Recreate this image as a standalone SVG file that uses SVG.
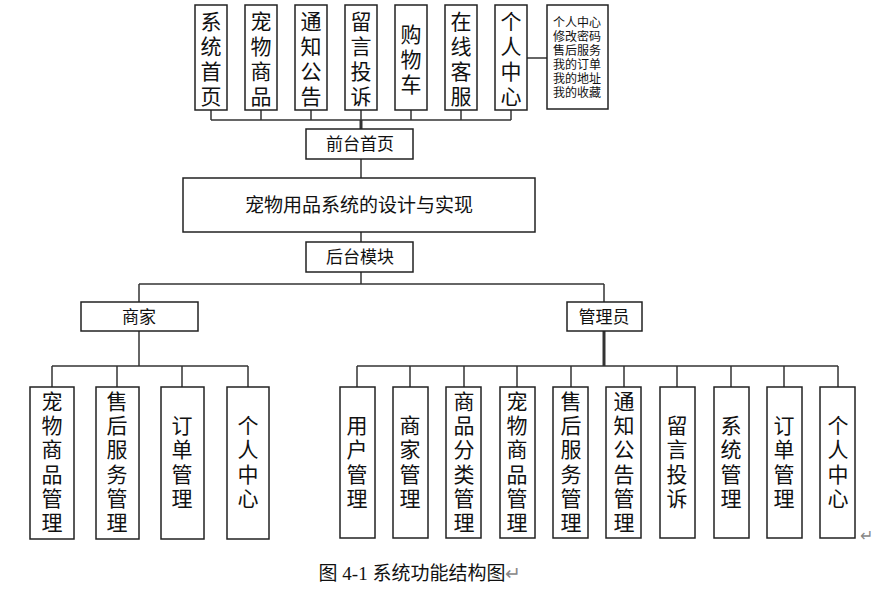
<svg xmlns="http://www.w3.org/2000/svg" width="883" height="609" viewBox="0 0 883 609">
<style>
rect{fill:#fff;stroke:#222;stroke-width:1.5}
line{stroke:#333;stroke-width:1.5}
text{font-family:"Liberation Serif","Noto Sans CJK SC",serif;fill:#111}
.v{font-size:21px;text-anchor:middle;dominant-baseline:central}
.h{font-size:17px;text-anchor:middle;dominant-baseline:central}
.s{font-size:12px;text-anchor:middle}
</style>
<rect width="883" height="609" style="fill:#fff;stroke:none"/>
<g id="connectors">
<line x1="211" y1="110" x2="211" y2="120"/><line x1="261" y1="110" x2="261" y2="120"/><line x1="311" y1="110" x2="311" y2="120"/><line x1="361" y1="110" x2="361" y2="120"/><line x1="411" y1="110" x2="411" y2="120"/><line x1="461" y1="110" x2="461" y2="120"/><line x1="511" y1="110" x2="511" y2="120"/>
<line x1="211" y1="120" x2="511" y2="120"/>
<line x1="361" y1="120" x2="361" y2="129" style="stroke-width:3"/>
<line x1="526" y1="58" x2="547" y2="58"/>
<line x1="361" y1="159" x2="361" y2="178"/>
<line x1="361" y1="232" x2="361" y2="242"/>
<line x1="361" y1="272" x2="361" y2="284"/>
<line x1="139" y1="284" x2="604" y2="284"/>
<line x1="139" y1="284" x2="139" y2="302"/><line x1="604" y1="284" x2="604" y2="302"/>
<line x1="139" y1="331" x2="139" y2="366"/>
<line x1="52" y1="366" x2="248" y2="366"/>
<line x1="52" y1="366" x2="52" y2="387"/><line x1="117" y1="366" x2="117" y2="387"/><line x1="182" y1="366" x2="182" y2="387"/><line x1="248" y1="366" x2="248" y2="387"/>
<line x1="604" y1="331" x2="604" y2="366" style="stroke-width:3"/>
<line x1="357" y1="366" x2="838" y2="366"/>
<line x1="357" y1="366" x2="357" y2="387"/><line x1="410" y1="366" x2="410" y2="387"/><line x1="464" y1="366" x2="464" y2="387"/><line x1="517" y1="366" x2="517" y2="387"/><line x1="571" y1="366" x2="571" y2="387"/><line x1="624" y1="366" x2="624" y2="387"/><line x1="677" y1="366" x2="677" y2="387"/><line x1="731" y1="366" x2="731" y2="387"/><line x1="784" y1="366" x2="784" y2="387"/><line x1="838" y1="366" x2="838" y2="387"/>
</g>
<g id="t1"><rect x="195" y="5" width="32" height="105"/><text class="v" x="211"><tspan x="211" y="22">系</tspan><tspan x="211" y="47">统</tspan><tspan x="211" y="72">首</tspan><tspan x="211" y="97">页</tspan></text></g>
<g id="t2"><rect x="245" y="5" width="32" height="105"/><text class="v"><tspan x="261" y="22">宠</tspan><tspan x="261" y="47">物</tspan><tspan x="261" y="72">商</tspan><tspan x="261" y="97">品</tspan></text></g>
<g id="t3"><rect x="295" y="5" width="32" height="105"/><text class="v"><tspan x="311" y="22">通</tspan><tspan x="311" y="47">知</tspan><tspan x="311" y="72">公</tspan><tspan x="311" y="97">告</tspan></text></g>
<g id="t4"><rect x="345" y="5" width="32" height="105"/><text class="v"><tspan x="361" y="22">留</tspan><tspan x="361" y="47">言</tspan><tspan x="361" y="72">投</tspan><tspan x="361" y="97">诉</tspan></text></g>
<g id="t5"><rect x="395" y="5" width="32" height="105"/><text class="v"><tspan x="411" y="35">购</tspan><tspan x="411" y="60">物</tspan><tspan x="411" y="85">车</tspan></text></g>
<g id="t6"><rect x="445" y="5" width="32" height="105"/><text class="v"><tspan x="461" y="22">在</tspan><tspan x="461" y="47">线</tspan><tspan x="461" y="72">客</tspan><tspan x="461" y="97">服</tspan></text></g>
<g id="t7"><rect x="495" y="5" width="32" height="105"/><text class="v"><tspan x="511" y="22">个</tspan><tspan x="511" y="47">人</tspan><tspan x="511" y="72">中</tspan><tspan x="511" y="97">心</tspan></text></g>
<g id="t8"><rect x="547" y="5" width="61" height="104"/><text class="s"><tspan x="577" y="27">个人中心</tspan><tspan x="577" y="41">修改密码</tspan><tspan x="577" y="55">售后服务</tspan><tspan x="577" y="69">我的订单</tspan><tspan x="577" y="83">我的地址</tspan><tspan x="577" y="97">我的收藏</tspan></text></g>
<g id="front"><rect x="306" y="129" width="107" height="30"/><text class="h" x="360" y="144">前台首页</text></g>
<g id="main"><rect x="183" y="178" width="352" height="54"/><text class="h" x="359" y="205" style="font-size:19px">宠物用品系统的设计与实现</text></g>
<g id="back"><rect x="306" y="242" width="107" height="30"/><text class="h" x="360" y="257">后台模块</text></g>
<g id="merchant"><rect x="81" y="302" width="117" height="29"/><text class="h" x="139" y="317">商家</text></g>
<g id="admin"><rect x="567" y="302" width="75" height="29"/><text class="h" x="604" y="317">管理员</text></g>
<g id="m1"><rect x="30" y="387" width="44" height="152"/><text class="v"><tspan x="52" y="402">宠</tspan><tspan x="52" y="426">物</tspan><tspan x="52" y="450">商</tspan><tspan x="52" y="475">品</tspan><tspan x="52" y="499">管</tspan><tspan x="52" y="523">理</tspan></text></g>
<g id="m2"><rect x="96" y="387" width="43" height="152"/><text class="v"><tspan x="117" y="402">售</tspan><tspan x="117" y="426">后</tspan><tspan x="117" y="450">服</tspan><tspan x="117" y="475">务</tspan><tspan x="117" y="499">管</tspan><tspan x="117" y="523">理</tspan></text></g>
<g id="m3"><rect x="161" y="387" width="43" height="152"/><text class="v"><tspan x="182" y="426">订</tspan><tspan x="182" y="450">单</tspan><tspan x="182" y="475">管</tspan><tspan x="182" y="499">理</tspan></text></g>
<g id="m4"><rect x="227" y="387" width="42" height="152"/><text class="v"><tspan x="248" y="426">个</tspan><tspan x="248" y="450">人</tspan><tspan x="248" y="475">中</tspan><tspan x="248" y="499">心</tspan></text></g>
<g id="a1"><rect x="340" y="387" width="35" height="151"/><text class="v"><tspan x="357" y="426">用</tspan><tspan x="357" y="450">户</tspan><tspan x="357" y="475">管</tspan><tspan x="357" y="499">理</tspan></text></g>
<g id="a2"><rect x="393" y="387" width="35" height="151"/><text class="v"><tspan x="410" y="426">商</tspan><tspan x="410" y="450">家</tspan><tspan x="410" y="475">管</tspan><tspan x="410" y="499">理</tspan></text></g>
<g id="a3"><rect x="446" y="387" width="35" height="151"/><text class="v"><tspan x="464" y="402">商</tspan><tspan x="464" y="426">品</tspan><tspan x="464" y="450">分</tspan><tspan x="464" y="475">类</tspan><tspan x="464" y="499">管</tspan><tspan x="464" y="523">理</tspan></text></g>
<g id="a4"><rect x="500" y="387" width="35" height="151"/><text class="v"><tspan x="517" y="402">宠</tspan><tspan x="517" y="426">物</tspan><tspan x="517" y="450">商</tspan><tspan x="517" y="475">品</tspan><tspan x="517" y="499">管</tspan><tspan x="517" y="523">理</tspan></text></g>
<g id="a5"><rect x="553" y="387" width="35" height="151"/><text class="v"><tspan x="571" y="402">售</tspan><tspan x="571" y="426">后</tspan><tspan x="571" y="450">服</tspan><tspan x="571" y="475">务</tspan><tspan x="571" y="499">管</tspan><tspan x="571" y="523">理</tspan></text></g>
<g id="a6"><rect x="606" y="387" width="35" height="151"/><text class="v"><tspan x="624" y="402">通</tspan><tspan x="624" y="426">知</tspan><tspan x="624" y="450">公</tspan><tspan x="624" y="475">告</tspan><tspan x="624" y="499">管</tspan><tspan x="624" y="523">理</tspan></text></g>
<g id="a7"><rect x="660" y="387" width="35" height="151"/><text class="v"><tspan x="677" y="426">留</tspan><tspan x="677" y="450">言</tspan><tspan x="677" y="475">投</tspan><tspan x="677" y="499">诉</tspan></text></g>
<g id="a8"><rect x="714" y="387" width="35" height="151"/><text class="v"><tspan x="731" y="426">系</tspan><tspan x="731" y="450">统</tspan><tspan x="731" y="475">管</tspan><tspan x="731" y="499">理</tspan></text></g>
<g id="a9"><rect x="767" y="387" width="35" height="151"/><text class="v"><tspan x="784" y="426">订</tspan><tspan x="784" y="450">单</tspan><tspan x="784" y="475">管</tspan><tspan x="784" y="499">理</tspan></text></g>
<g id="a10"><rect x="820" y="387" width="35" height="151"/><text class="v"><tspan x="838" y="426">个</tspan><tspan x="838" y="450">人</tspan><tspan x="838" y="475">中</tspan><tspan x="838" y="499">心</tspan></text></g>
<text x="866" y="541" style="font-size:16px;fill:#888;text-anchor:middle">↵</text>
<text x="420" y="580" style="font-size:19px;text-anchor:middle">图 4-1 系统功能结构图<tspan style="fill:#888">↵</tspan></text>
</svg>
